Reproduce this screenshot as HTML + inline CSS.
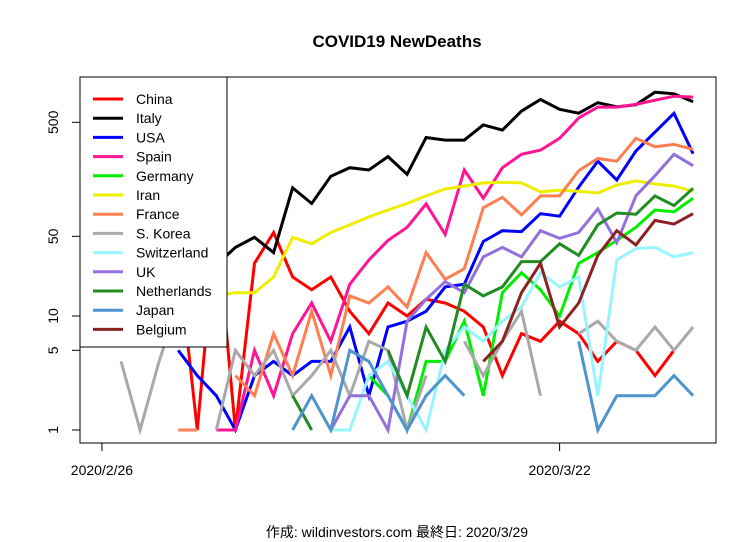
<!DOCTYPE html>
<html><head><meta charset="utf-8"><style>
html,body{margin:0;padding:0;background:#fff;}
svg{display:block;font-family:"Liberation Sans","Noto Sans CJK JP",sans-serif;}
</style></head><body>
<svg id="chart" width="756" height="542" viewBox="0 0 756 542">
<text x="397" y="47" text-anchor="middle" font-size="17" font-weight="bold">COVID19 NewDeaths</text>
<g id="plot"></g>
<rect x="80" y="77" width="636" height="366" fill="none" stroke="#000" stroke-width="1"/>
<g id="axes"></g>
<g id="legend"></g>
<text x="397" y="537" text-anchor="middle" font-size="14">作成: wildinvestors.com 最終日: 2020/3/29</text>
</svg>
<script>
const seriesNames = ["China","Italy","USA","Spain","Germany","Iran","France","S. Korea","Switzerland","UK","Netherlands","Japan","Belgium"];
const seriesColors = ["#ff0000","#000000","#0000ff","#ff1493","#00ee00","#eeee00","#ff7f50","#a9a9a9","#98f5ff","#9370db","#228b22","#4f94cd","#8b2323"];
const N = null;
const china = [89,38,42,33,1,67,1,29,54,22,17,22,11,7,13,10,14,13,11,8,3,7,6,9,7,4,6,5,3,5,N];
const italy = [9,8,10,12,27,28,40,49,36,133,97,168,200,191,250,175,368,349,349,475,427,627,793,651,601,743,683,712,919,889,756];
const usa = [N,N,N,5,3,2,1,3,4,3,4,4,8,2,8,9,11,18,19,45,56,55,79,75,135,228,156,280,410,600,265];
const spain = [N,N,N,N,N,1,1,5,2,7,13,6,19,31,46,60,96,52,191,108,200,262,285,362,546,680,680,718,782,847,832];
const germany = [N,N,N,N,N,N,N,N,N,N,N,N,N,3,2,1,4,4,9,2,16,24,17,10,29,36,46,60,85,82,108];
const iran = [15,9,11,12,11,15,16,16,22,49,43,54,63,74,85,97,113,130,138,147,149,147,123,127,124,120,141,153,144,138,124];
const france = [N,N,N,1,1,N,3,2,7,3,11,3,15,13,18,12,36,21,26,89,110,77,113,113,188,241,228,362,305,320,290];
const korea = [4,1,4,13,N,1,5,3,5,2,3,5,2,6,5,1,3,N,6,3,6,11,2,N,7,9,6,5,8,5,8];
const switzerland = [N,N,N,N,N,N,N,N,N,N,N,1,1,3,4,2,1,5,8,6,9,12,24,18,22,2,31,39,40,33,36];
const uk = [N,N,N,N,N,N,N,N,N,N,N,1,2,2,1,9,14,20,16,33,40,33,56,48,54,87,44,113,170,262,208];
const netherlands = [N,N,N,N,N,N,N,N,N,2,1,N,N,N,5,2,8,4,19,15,18,30,30,43,34,63,80,78,113,93,132];
const japan = [N,N,N,N,N,N,N,N,N,1,2,1,5,4,2,1,2,3,2,N,N,N,N,N,6,1,2,2,2,3,2];
const belgium = [N,N,N,N,N,N,N,N,N,N,N,N,N,N,N,N,N,N,N,4,6,16,29,8,13,34,56,42,69,64,79];
const allSeries = [china,italy,usa,spain,germany,iran,france,korea,switzerland,uk,netherlands,japan,belgium];
const yTickValues = [1,5,10,50,500];
const xTickIndex = [-1,23];
const xTickLabels = ["2020/2/26","2020/3/22"];

const NS="http://www.w3.org/2000/svg";
function xScale(i){return 121 + 19.07*i;}
function yScale(v){return 430 - 114*Math.log10(v);}
function mk(tag,attrs,parent){const e=document.createElementNS(NS,tag);for(const k in attrs)e.setAttribute(k,attrs[k]);parent.appendChild(e);return e;}

const plot=document.getElementById('plot');
allSeries.forEach((arr,s)=>{
  let d="",pen=false;
  arr.forEach((v,i)=>{
    if(v===null||v<=0){pen=false;return;}
    d+=(pen?"L":"M")+xScale(i).toFixed(1)+" "+yScale(v).toFixed(1)+" ";
    pen=true;
  });
  const p=mk('path',{d:d,fill:"none",stroke:seriesColors[s],"stroke-width":3,"stroke-linejoin":"miter"},plot);
  
  
});

const axes=document.getElementById('axes');
mk('line',{x1:80,x2:80,y1:yScale(1),y2:yScale(500),stroke:"#000"},axes);
yTickValues.forEach(v=>{
  const y=yScale(v);
  const t=mk('line',{x1:72,x2:80,y1:y,y2:y,stroke:"#000"},axes);
  
  
  const l=mk('text',{x:0,y:0,transform:"translate(58,"+y+") rotate(-90)","text-anchor":"middle","font-size":14},axes);
  l.textContent=v;
  
  
});
mk('line',{x1:xScale(xTickIndex[0]),x2:xScale(xTickIndex[1]),y1:443,y2:443,stroke:"#000"},axes);
xTickIndex.forEach((ix,k)=>{
  const x=xScale(ix);
  const t=mk('line',{x1:x,x2:x,y1:443,y2:451,stroke:"#000"},axes);
  
  
  const l=mk('text',{x:x,y:475,"text-anchor":"middle","font-size":14},axes);
  l.textContent=xTickLabels[k];
  
  
});

const lg=document.getElementById('legend');
const box=mk('rect',{x:80,y:77,width:147,height:270,fill:"#fff",stroke:"#000"},lg);


seriesNames.forEach((n,s)=>{
  const y=99+19.2*s;
  const g=mk('g',{},lg);
  
  
  mk('line',{x1:93,x2:123,y1:y,y2:y,stroke:seriesColors[s],"stroke-width":3},g);
  const t=mk('text',{x:136,y:y+5,"font-size":14},g);
  t.textContent=n;
});
</script>
</body></html>
